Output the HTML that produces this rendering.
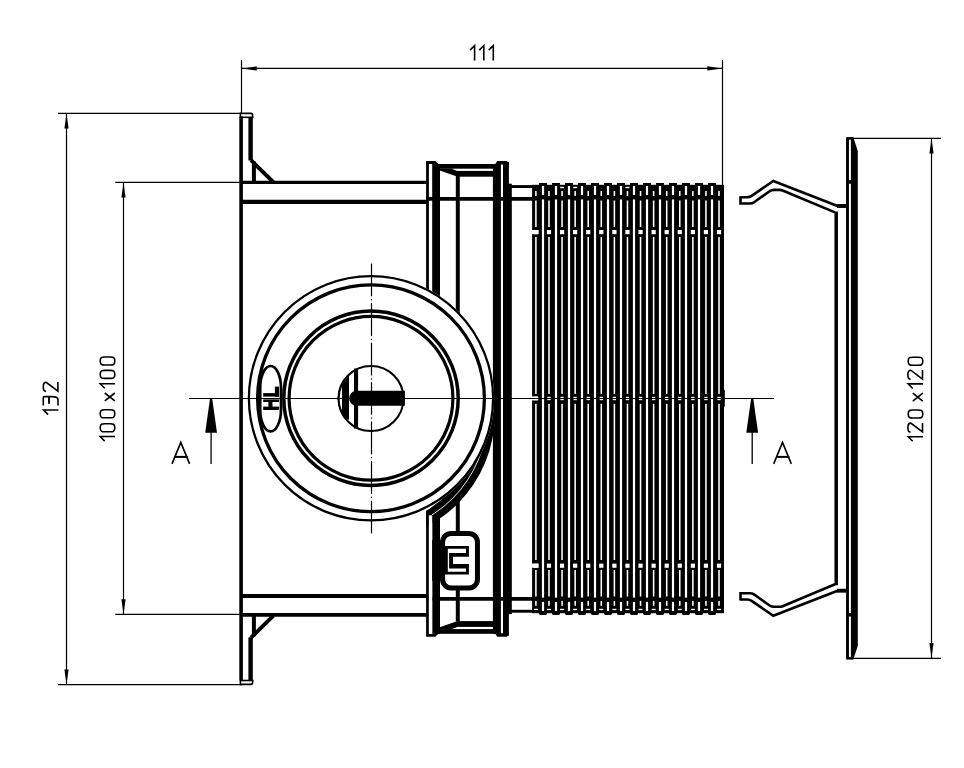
<!DOCTYPE html>
<html><head><meta charset="utf-8"><title>drawing</title>
<style>
html,body{margin:0;padding:0;background:#fff;}
body{width:964px;height:768px;overflow:hidden;font-family:"Liberation Sans",sans-serif;}
svg{display:block;}
</style></head>
<body>
<svg width="964" height="768" viewBox="0 0 964 768">
<rect x="0" y="0" width="964" height="768" fill="#fff"/>
<g fill="none" stroke="#000" stroke-linecap="butt">
<path d="M241.5,68.4 H722.5" stroke-width="1.2"/>
<path d="M241.5,60 V113.5" stroke-width="1.2"/>
<path d="M722.5,60 V185" stroke-width="1.2"/>
<polygon points="241.5,68.4 256.7,66.3 256.7,70.5" fill="#000" stroke="none"/>
<polygon points="722.5,68.4 707.3,66.3 707.3,70.5" fill="#000" stroke="none"/>
<g transform="translate(469.4,44.8)" stroke-width="1.6" fill="none"><path d="M0.6,5.3 L5.2,0.8 V15.6"/><path d="M9.8,5.3 L14.4,0.8 V15.6"/><path d="M19.3,5.3 L23.9,0.8 V15.6"/></g>
<path d="M66.5,113.3 V684.6" stroke-width="1.2"/>
<path d="M58,113.3 H241" stroke-width="1.2"/>
<path d="M58,684.6 H242" stroke-width="1.2"/>
<polygon points="66.5,113.3 64.4,128.5 68.6,128.5" fill="#000" stroke="none"/>
<polygon points="66.5,684.6 64.4,669.4 68.6,669.4" fill="#000" stroke="none"/>
<g transform="translate(42.8,415) rotate(-90)" stroke-width="1.6" fill="none"><path d="M0.4,5.3 L5.0,0.8 V15.6"/><g transform="translate(9.25,0)"><path d="M0.15,0.5 H8.05 Q9.15,0.5 9.15,1.6 V9.2 C9.15,13 8,15.2 6.15,15.2 H0.15"/><path d="M1.95,6.2 H9.15" stroke-width="1.9"/></g><g transform="translate(23.2,0)"><path d="M0.5,3.2 C0.5,1.3 2.4,0.45 4.9,0.45 C7.5,0.45 9.5,1.6 9.5,3.4 L0.6,15.1 H9.7"/></g></g>
<path d="M123.5,182.4 V614.4" stroke-width="1.2"/>
<path d="M115.2,182.4 H240" stroke-width="1.2"/>
<path d="M115.2,614.4 H240" stroke-width="1.2"/>
<polygon points="123.5,182.4 121.4,197.6 125.6,197.6" fill="#000" stroke="none"/>
<polygon points="123.5,614.4 121.4,599.2 125.6,599.2" fill="#000" stroke="none"/>
<g transform="translate(99.4,441.4) rotate(-90)" stroke-width="1.6" fill="none"><path d="M0.3,5.3 L4.9,0.8 V15.6"/><path d="M13.600000000000001,0.8 C17.8,0.8 17.6,3 17.6,5.6 V10.6 C17.6,13.2 17.8,15.4 13.600000000000001,15.4 C9.400000000000002,15.4 9.600000000000001,13.2 9.600000000000001,10.6 V5.6 C9.600000000000001,3 9.400000000000002,0.8 13.600000000000001,0.8 Z"/><path d="M27.6,0.8 C31.8,0.8 31.6,3 31.6,5.6 V10.6 C31.6,13.2 31.8,15.4 27.6,15.4 C23.400000000000002,15.4 23.6,13.2 23.6,10.6 V5.6 C23.6,3 23.400000000000002,0.8 27.6,0.8 Z"/><g transform="translate(39.7,0)"><path d="M0.8,5.4 L8.7,15.4 M8.7,5.4 L0.8,15.4"/></g><path d="M53.1,5.3 L57.7,0.8 V15.6"/><path d="M67.0,0.8 C71.2,0.8 71.0,3 71.0,5.6 V10.6 C71.0,13.2 71.2,15.4 67.0,15.4 C62.8,15.4 63.0,13.2 63.0,10.6 V5.6 C63.0,3 62.8,0.8 67.0,0.8 Z"/><path d="M80.39999999999999,0.8 C84.6,0.8 84.39999999999999,3 84.39999999999999,5.6 V10.6 C84.39999999999999,13.2 84.6,15.4 80.39999999999999,15.4 C76.19999999999999,15.4 76.39999999999999,13.2 76.39999999999999,10.6 V5.6 C76.39999999999999,3 76.19999999999999,0.8 80.39999999999999,0.8 Z"/></g>
<path d="M931.5,138.3 V658.3" stroke-width="1.2"/>
<path d="M853,138.3 H941" stroke-width="1.2"/>
<path d="M853,658.3 H941" stroke-width="1.2"/>
<polygon points="931.5,138.3 929.4,153.5 933.6,153.5" fill="#000" stroke="none"/>
<polygon points="931.5,658.3 929.4,643.1 933.6,643.1" fill="#000" stroke="none"/>
<g transform="translate(907.4,441.6) rotate(-90)" stroke-width="1.6" fill="none"><path d="M0.3,5.3 L4.9,0.8 V15.6"/><g transform="translate(9.0,0)"><path d="M0.5,3.2 C0.5,1.3 2.4,0.45 4.9,0.45 C7.5,0.45 9.5,1.6 9.5,3.4 L0.6,15.1 H9.7"/></g><path d="M27.6,0.8 C31.8,0.8 31.6,3 31.6,5.6 V10.6 C31.6,13.2 31.8,15.4 27.6,15.4 C23.400000000000002,15.4 23.6,13.2 23.6,10.6 V5.6 C23.6,3 23.400000000000002,0.8 27.6,0.8 Z"/><g transform="translate(39.7,0)"><path d="M0.8,5.4 L8.7,15.4 M8.7,5.4 L0.8,15.4"/></g><path d="M53.1,5.3 L57.7,0.8 V15.6"/><g transform="translate(61.9,0)"><path d="M0.5,3.2 C0.5,1.3 2.4,0.45 4.9,0.45 C7.5,0.45 9.5,1.6 9.5,3.4 L0.6,15.1 H9.7"/></g><path d="M80.39999999999999,0.8 C84.6,0.8 84.39999999999999,3 84.39999999999999,5.6 V10.6 C84.39999999999999,13.2 84.6,15.4 80.39999999999999,15.4 C76.19999999999999,15.4 76.39999999999999,13.2 76.39999999999999,10.6 V5.6 C76.39999999999999,3 76.19999999999999,0.8 80.39999999999999,0.8 Z"/></g>
<path d="M189,398.5 H774" stroke-width="1.2"/>
<polygon points="210.0,398.8 212.2,398.8 217.0,432.8 205.2,432.8" fill="#000" stroke="none"/>
<path d="M211.1,432 V464" stroke-width="1.3"/>
<polygon points="751.1,398.8 753.3000000000001,398.8 758.1,432.8 746.3000000000001,432.8" fill="#000" stroke="none"/>
<path d="M752.2,432 V464" stroke-width="1.3"/>
<path d="M172.0,463.9 L180.8,442.4 L189.6,463.9" stroke-width="1.6" fill="none" stroke-linejoin="miter"/>
<path d="M174.3,456.9 H187.7" stroke-width="2.0"/>
<path d="M773.7,463.9 L782.5,442.4 L791.3,463.9" stroke-width="1.6" fill="none" stroke-linejoin="miter"/>
<path d="M776.0,456.9 H789.4" stroke-width="2.0"/>
<path d="M240.4,117.5 V113.4 H251 Q252.6,113.4 252.6,115.2 V117.6" stroke-width="1.6" fill="none"/>
<path d="M240,117.3 H253.5" stroke-width="1.6"/>
<path d="M240.4,680.3 V684.4 H251 Q252.6,684.4 252.6,682.6 V680.2" stroke-width="1.6" fill="none"/>
<path d="M240,680.5 H253.5" stroke-width="1.6"/>
<path d="M241.1,116.5 V680.5" stroke-width="3.6"/>
<path d="M250.6,117 V160.5" stroke-width="4.4"/>
<path d="M250.6,637.3 V680.8" stroke-width="4.4"/>
<path d="M251,160.2 L273.4,182.2" stroke-width="3.9"/>
<path d="M251,637.6 L273.4,615.6" stroke-width="3.9"/>
<path d="M253.9,161.5 V182" stroke-width="4.0"/>
<path d="M253.9,615.8 V636.3" stroke-width="4.0"/>
<path d="M241,182.45 H427" stroke-width="3.3"/>
<path d="M241,201.9 H427" stroke-width="4.1"/>
<path d="M241,595.9 H427" stroke-width="4.0"/>
<path d="M241,614.8 H427" stroke-width="3.8"/>
<path d="M427.5,291 V162.5 H434.8 L437.4,165" stroke-width="2.8" fill="none"/>
<path d="M427.5,512 V635.3 H434.8 L437.4,632.8" stroke-width="2.8" fill="none"/>
<rect x="432.2" y="164" width="7.8" height="133" fill="#000" stroke="none"/>
<rect x="432.2" y="509" width="7.8" height="124.8" fill="#000" stroke="none"/>
<rect x="436.5" y="164" width="59.5" height="4.7" fill="#000" stroke="none"/>
<rect x="436.5" y="629.1" width="59.5" height="4.7" fill="#000" stroke="none"/>
<rect x="457" y="170.9" width="36.2" height="5.8" fill="#000" stroke="none"/>
<rect x="457" y="621.1" width="36.2" height="5.8" fill="#000" stroke="none"/>
<polygon points="439.7,168.6 451.5,168.6 457.2,170.9 457.2,176.7 455.5,176.0 439.7,170.6" fill="#000" stroke="none"/>
<polygon points="439.7,629.2 451.5,629.2 457.2,626.9 457.2,621.1 455.5,621.8 439.7,627.2" fill="#000" stroke="none"/>
<path d="M457.8,176 V314" stroke-width="4.0"/>
<path d="M457.8,500 V533" stroke-width="4.0"/>
<rect x="492.9" y="164" width="8.0" height="469.8" fill="#000" stroke="none"/>
<polygon points="495.0,164.5 497.2,161 507.0,161 508.9,164.5" fill="#000" stroke="none"/>
<polygon points="495.0,633.3 497.2,636.8 507.0,636.8 508.9,633.3" fill="#000" stroke="none"/>
<rect x="503.0" y="162" width="5.9" height="473.8" fill="#000" stroke="none"/>
<rect x="503.0" y="183.7" width="8.8" height="430.4" fill="#000" stroke="none"/>
<path d="M426.5,198.85 H533" stroke-width="3.8"/>
<path d="M426.5,598.95 H533" stroke-width="3.8"/>
<path d="M511,186.55 H533" stroke-width="2.9"/>
<path d="M511,611.25 H533" stroke-width="2.9"/>
<rect x="532.1" y="184.8" width="191.9" height="428.4" fill="#000" stroke="none"/>
<rect x="539.0" y="183.0" width="8.0" height="2.5" fill="#000" stroke="none"/>
<path d="M539.0,612 V613.6 Q539.0,614.9 540.3,614.9 H545.7 Q547.0,614.9 547.0,613.6 V612 Z" fill="#000" stroke="none"/>
<rect x="552.0" y="183.0" width="8.0" height="2.5" fill="#000" stroke="none"/>
<path d="M552.0,612 V613.6 Q552.0,614.9 553.3,614.9 H558.7 Q560.0,614.9 560.0,613.6 V612 Z" fill="#000" stroke="none"/>
<rect x="565.0" y="183.0" width="8.0" height="2.5" fill="#000" stroke="none"/>
<path d="M565.0,612 V613.6 Q565.0,614.9 566.3,614.9 H571.7 Q573.0,614.9 573.0,613.6 V612 Z" fill="#000" stroke="none"/>
<rect x="578.0" y="183.0" width="8.0" height="2.5" fill="#000" stroke="none"/>
<path d="M578.0,612 V613.6 Q578.0,614.9 579.3,614.9 H584.7 Q586.0,614.9 586.0,613.6 V612 Z" fill="#000" stroke="none"/>
<rect x="591.0" y="183.0" width="8.0" height="2.5" fill="#000" stroke="none"/>
<path d="M591.0,612 V613.6 Q591.0,614.9 592.3,614.9 H597.7 Q599.0,614.9 599.0,613.6 V612 Z" fill="#000" stroke="none"/>
<rect x="604.0" y="183.0" width="8.0" height="2.5" fill="#000" stroke="none"/>
<path d="M604.0,612 V613.6 Q604.0,614.9 605.3,614.9 H610.7 Q612.0,614.9 612.0,613.6 V612 Z" fill="#000" stroke="none"/>
<rect x="617.0" y="183.0" width="8.0" height="2.5" fill="#000" stroke="none"/>
<path d="M617.0,612 V613.6 Q617.0,614.9 618.3,614.9 H623.7 Q625.0,614.9 625.0,613.6 V612 Z" fill="#000" stroke="none"/>
<rect x="630.0" y="183.0" width="8.0" height="2.5" fill="#000" stroke="none"/>
<path d="M630.0,612 V613.6 Q630.0,614.9 631.3,614.9 H636.7 Q638.0,614.9 638.0,613.6 V612 Z" fill="#000" stroke="none"/>
<rect x="643.0" y="183.0" width="8.0" height="2.5" fill="#000" stroke="none"/>
<path d="M643.0,612 V613.6 Q643.0,614.9 644.3,614.9 H649.7 Q651.0,614.9 651.0,613.6 V612 Z" fill="#000" stroke="none"/>
<rect x="656.0" y="183.0" width="8.0" height="2.5" fill="#000" stroke="none"/>
<path d="M656.0,612 V613.6 Q656.0,614.9 657.3,614.9 H662.7 Q664.0,614.9 664.0,613.6 V612 Z" fill="#000" stroke="none"/>
<rect x="669.0" y="183.0" width="8.0" height="2.5" fill="#000" stroke="none"/>
<path d="M669.0,612 V613.6 Q669.0,614.9 670.3,614.9 H675.7 Q677.0,614.9 677.0,613.6 V612 Z" fill="#000" stroke="none"/>
<rect x="682.0" y="183.0" width="8.0" height="2.5" fill="#000" stroke="none"/>
<path d="M682.0,612 V613.6 Q682.0,614.9 683.3,614.9 H688.7 Q690.0,614.9 690.0,613.6 V612 Z" fill="#000" stroke="none"/>
<rect x="695.0" y="183.0" width="8.0" height="2.5" fill="#000" stroke="none"/>
<path d="M695.0,612 V613.6 Q695.0,614.9 696.3,614.9 H701.7 Q703.0,614.9 703.0,613.6 V612 Z" fill="#000" stroke="none"/>
<rect x="708.0" y="183.0" width="8.0" height="2.5" fill="#000" stroke="none"/>
<path d="M708.0,612 V613.6 Q708.0,614.9 709.3,614.9 H714.7 Q716.0,614.9 716.0,613.6 V612 Z" fill="#000" stroke="none"/>
<g fill="#fff" stroke="none">
<rect x="541.9" y="186" width="2.2" height="9"/>
<rect x="541.9" y="199.4" width="2.2" height="398.2"/>
<rect x="541.9" y="601.9" width="2.2" height="9.1"/>
<rect x="554.9" y="186" width="2.2" height="9"/>
<rect x="554.9" y="199.4" width="2.2" height="398.2"/>
<rect x="554.9" y="601.9" width="2.2" height="9.1"/>
<rect x="567.9" y="186" width="2.2" height="9"/>
<rect x="567.9" y="199.4" width="2.2" height="398.2"/>
<rect x="567.9" y="601.9" width="2.2" height="9.1"/>
<rect x="580.9" y="186" width="2.2" height="9"/>
<rect x="580.9" y="199.4" width="2.2" height="398.2"/>
<rect x="580.9" y="601.9" width="2.2" height="9.1"/>
<rect x="593.9" y="186" width="2.2" height="9"/>
<rect x="593.9" y="199.4" width="2.2" height="398.2"/>
<rect x="593.9" y="601.9" width="2.2" height="9.1"/>
<rect x="606.9" y="186" width="2.2" height="9"/>
<rect x="606.9" y="199.4" width="2.2" height="398.2"/>
<rect x="606.9" y="601.9" width="2.2" height="9.1"/>
<rect x="619.9" y="186" width="2.2" height="9"/>
<rect x="619.9" y="199.4" width="2.2" height="398.2"/>
<rect x="619.9" y="601.9" width="2.2" height="9.1"/>
<rect x="632.9" y="186" width="2.2" height="9"/>
<rect x="632.9" y="199.4" width="2.2" height="398.2"/>
<rect x="632.9" y="601.9" width="2.2" height="9.1"/>
<rect x="645.9" y="186" width="2.2" height="9"/>
<rect x="645.9" y="199.4" width="2.2" height="398.2"/>
<rect x="645.9" y="601.9" width="2.2" height="9.1"/>
<rect x="658.9" y="186" width="2.2" height="9"/>
<rect x="658.9" y="199.4" width="2.2" height="398.2"/>
<rect x="658.9" y="601.9" width="2.2" height="9.1"/>
<rect x="671.9" y="186" width="2.2" height="9"/>
<rect x="671.9" y="199.4" width="2.2" height="398.2"/>
<rect x="671.9" y="601.9" width="2.2" height="9.1"/>
<rect x="684.9" y="186" width="2.2" height="9"/>
<rect x="684.9" y="199.4" width="2.2" height="398.2"/>
<rect x="684.9" y="601.9" width="2.2" height="9.1"/>
<rect x="697.9" y="186" width="2.2" height="9"/>
<rect x="697.9" y="199.4" width="2.2" height="398.2"/>
<rect x="697.9" y="601.9" width="2.2" height="9.1"/>
<rect x="710.9" y="186" width="2.2" height="9"/>
<rect x="710.9" y="199.4" width="2.2" height="398.2"/>
<rect x="710.9" y="601.9" width="2.2" height="9.1"/>
<rect x="535.12" y="191" width="1.55" height="5"/>
<rect x="535.12" y="200.5" width="1.55" height="26.5"/>
<rect x="535.12" y="237" width="1.55" height="156.9"/>
<rect x="535.12" y="403.8" width="1.55" height="156.2"/>
<rect x="535.12" y="570" width="1.55" height="26.5"/>
<rect x="535.12" y="600.9" width="1.55" height="4.9"/>
<rect x="533.9" y="608.8" width="4.0" height="1.3"/>
<rect x="533.8" y="230" width="4.2" height="4.2"/>
<rect x="533.8" y="563.6" width="4.2" height="4.2"/>
<rect x="534.25" y="396.8" width="3.3" height="3.4"/>
<rect x="548.21" y="191" width="1.55" height="5"/>
<rect x="548.21" y="200.5" width="1.55" height="26.5"/>
<rect x="548.21" y="237" width="1.55" height="156.9"/>
<rect x="548.21" y="403.8" width="1.55" height="156.2"/>
<rect x="548.21" y="570" width="1.55" height="26.5"/>
<rect x="548.21" y="600.9" width="1.55" height="4.9"/>
<rect x="546.98" y="608.8" width="4.0" height="1.3"/>
<rect x="546.88" y="230" width="4.2" height="4.2"/>
<rect x="546.88" y="563.6" width="4.2" height="4.2"/>
<rect x="547.33" y="396.8" width="3.3" height="3.4"/>
<rect x="561.28" y="191" width="1.55" height="5"/>
<rect x="561.28" y="200.5" width="1.55" height="26.5"/>
<rect x="561.28" y="237" width="1.55" height="156.9"/>
<rect x="561.28" y="403.8" width="1.55" height="156.2"/>
<rect x="561.28" y="570" width="1.55" height="26.5"/>
<rect x="561.28" y="600.9" width="1.55" height="4.9"/>
<rect x="560.06" y="186.8" width="4.0" height="1.4"/>
<rect x="560.06" y="608.8" width="4.0" height="1.3"/>
<rect x="559.96" y="230" width="4.2" height="4.2"/>
<rect x="559.96" y="563.6" width="4.2" height="4.2"/>
<rect x="560.41" y="396.8" width="3.3" height="3.4"/>
<rect x="574.37" y="191" width="1.55" height="5"/>
<rect x="574.37" y="200.5" width="1.55" height="26.5"/>
<rect x="574.37" y="237" width="1.55" height="156.9"/>
<rect x="574.37" y="403.8" width="1.55" height="156.2"/>
<rect x="574.37" y="570" width="1.55" height="26.5"/>
<rect x="574.37" y="600.9" width="1.55" height="4.9"/>
<rect x="573.14" y="186.8" width="4.0" height="1.4"/>
<rect x="573.14" y="608.8" width="4.0" height="1.3"/>
<rect x="573.04" y="230" width="4.2" height="4.2"/>
<rect x="573.04" y="563.6" width="4.2" height="4.2"/>
<rect x="573.49" y="396.8" width="3.3" height="3.4"/>
<rect x="587.45" y="191" width="1.55" height="5"/>
<rect x="587.45" y="200.5" width="1.55" height="26.5"/>
<rect x="587.45" y="237" width="1.55" height="156.9"/>
<rect x="587.45" y="403.8" width="1.55" height="156.2"/>
<rect x="587.45" y="570" width="1.55" height="26.5"/>
<rect x="587.45" y="600.9" width="1.55" height="4.9"/>
<rect x="586.22" y="608.8" width="4.0" height="1.3"/>
<rect x="586.12" y="230" width="4.2" height="4.2"/>
<rect x="586.12" y="563.6" width="4.2" height="4.2"/>
<rect x="586.57" y="396.8" width="3.3" height="3.4"/>
<rect x="600.52" y="191" width="1.55" height="5"/>
<rect x="600.52" y="200.5" width="1.55" height="26.5"/>
<rect x="600.52" y="237" width="1.55" height="156.9"/>
<rect x="600.52" y="403.8" width="1.55" height="156.2"/>
<rect x="600.52" y="570" width="1.55" height="26.5"/>
<rect x="600.52" y="600.9" width="1.55" height="4.9"/>
<rect x="599.3" y="608.8" width="4.0" height="1.3"/>
<rect x="599.2" y="230" width="4.2" height="4.2"/>
<rect x="599.2" y="563.6" width="4.2" height="4.2"/>
<rect x="599.65" y="396.8" width="3.3" height="3.4"/>
<rect x="613.61" y="191" width="1.55" height="5"/>
<rect x="613.61" y="200.5" width="1.55" height="26.5"/>
<rect x="613.61" y="237" width="1.55" height="156.9"/>
<rect x="613.61" y="403.8" width="1.55" height="156.2"/>
<rect x="613.61" y="570" width="1.55" height="26.5"/>
<rect x="613.61" y="600.9" width="1.55" height="4.9"/>
<rect x="612.38" y="608.8" width="4.0" height="1.3"/>
<rect x="612.28" y="230" width="4.2" height="4.2"/>
<rect x="612.28" y="563.6" width="4.2" height="4.2"/>
<rect x="612.73" y="396.8" width="3.3" height="3.4"/>
<rect x="626.69" y="191" width="1.55" height="5"/>
<rect x="626.69" y="200.5" width="1.55" height="26.5"/>
<rect x="626.69" y="237" width="1.55" height="156.9"/>
<rect x="626.69" y="403.8" width="1.55" height="156.2"/>
<rect x="626.69" y="570" width="1.55" height="26.5"/>
<rect x="626.69" y="600.9" width="1.55" height="4.9"/>
<rect x="625.46" y="186.8" width="4.0" height="1.4"/>
<rect x="625.46" y="608.8" width="4.0" height="1.3"/>
<rect x="625.36" y="230" width="4.2" height="4.2"/>
<rect x="625.36" y="563.6" width="4.2" height="4.2"/>
<rect x="625.81" y="396.8" width="3.3" height="3.4"/>
<rect x="639.76" y="191" width="1.55" height="5"/>
<rect x="639.76" y="200.5" width="1.55" height="26.5"/>
<rect x="639.76" y="237" width="1.55" height="156.9"/>
<rect x="639.76" y="403.8" width="1.55" height="156.2"/>
<rect x="639.76" y="570" width="1.55" height="26.5"/>
<rect x="639.76" y="600.9" width="1.55" height="4.9"/>
<rect x="638.54" y="608.8" width="4.0" height="1.3"/>
<rect x="638.44" y="230" width="4.2" height="4.2"/>
<rect x="638.44" y="563.6" width="4.2" height="4.2"/>
<rect x="638.89" y="396.8" width="3.3" height="3.4"/>
<rect x="652.85" y="191" width="1.55" height="5"/>
<rect x="652.85" y="200.5" width="1.55" height="26.5"/>
<rect x="652.85" y="237" width="1.55" height="156.9"/>
<rect x="652.85" y="403.8" width="1.55" height="156.2"/>
<rect x="652.85" y="570" width="1.55" height="26.5"/>
<rect x="652.85" y="600.9" width="1.55" height="4.9"/>
<rect x="651.62" y="608.8" width="4.0" height="1.3"/>
<rect x="651.52" y="230" width="4.2" height="4.2"/>
<rect x="651.52" y="563.6" width="4.2" height="4.2"/>
<rect x="651.97" y="396.8" width="3.3" height="3.4"/>
<rect x="665.93" y="191" width="1.55" height="5"/>
<rect x="665.93" y="200.5" width="1.55" height="26.5"/>
<rect x="665.93" y="237" width="1.55" height="156.9"/>
<rect x="665.93" y="403.8" width="1.55" height="156.2"/>
<rect x="665.93" y="570" width="1.55" height="26.5"/>
<rect x="665.93" y="600.9" width="1.55" height="4.9"/>
<rect x="664.7" y="608.8" width="4.0" height="1.3"/>
<rect x="664.6" y="230" width="4.2" height="4.2"/>
<rect x="664.6" y="563.6" width="4.2" height="4.2"/>
<rect x="665.05" y="396.8" width="3.3" height="3.4"/>
<rect x="679.0" y="191" width="1.55" height="5"/>
<rect x="679.0" y="200.5" width="1.55" height="26.5"/>
<rect x="679.0" y="237" width="1.55" height="156.9"/>
<rect x="679.0" y="403.8" width="1.55" height="156.2"/>
<rect x="679.0" y="570" width="1.55" height="26.5"/>
<rect x="679.0" y="600.9" width="1.55" height="4.9"/>
<rect x="677.78" y="608.8" width="4.0" height="1.3"/>
<rect x="677.68" y="230" width="4.2" height="4.2"/>
<rect x="677.68" y="563.6" width="4.2" height="4.2"/>
<rect x="678.13" y="396.8" width="3.3" height="3.4"/>
<rect x="692.09" y="191" width="1.55" height="5"/>
<rect x="692.09" y="200.5" width="1.55" height="26.5"/>
<rect x="692.09" y="237" width="1.55" height="156.9"/>
<rect x="692.09" y="403.8" width="1.55" height="156.2"/>
<rect x="692.09" y="570" width="1.55" height="26.5"/>
<rect x="692.09" y="600.9" width="1.55" height="4.9"/>
<rect x="690.86" y="608.8" width="4.0" height="1.3"/>
<rect x="690.76" y="230" width="4.2" height="4.2"/>
<rect x="690.76" y="563.6" width="4.2" height="4.2"/>
<rect x="691.21" y="396.8" width="3.3" height="3.4"/>
<rect x="705.16" y="191" width="1.55" height="5"/>
<rect x="705.16" y="200.5" width="1.55" height="26.5"/>
<rect x="705.16" y="237" width="1.55" height="156.9"/>
<rect x="705.16" y="403.8" width="1.55" height="156.2"/>
<rect x="705.16" y="570" width="1.55" height="26.5"/>
<rect x="705.16" y="600.9" width="1.55" height="4.9"/>
<rect x="703.94" y="608.8" width="4.0" height="1.3"/>
<rect x="703.84" y="230" width="4.2" height="4.2"/>
<rect x="703.84" y="563.6" width="4.2" height="4.2"/>
<rect x="704.29" y="396.8" width="3.3" height="3.4"/>
<rect x="718.25" y="191" width="1.55" height="5"/>
<rect x="718.25" y="200.5" width="1.55" height="26.5"/>
<rect x="718.25" y="237" width="1.55" height="156.9"/>
<rect x="718.25" y="403.8" width="1.55" height="156.2"/>
<rect x="718.25" y="570" width="1.55" height="26.5"/>
<rect x="718.25" y="600.9" width="1.55" height="4.9"/>
<rect x="717.02" y="608.8" width="4.0" height="1.3"/>
<rect x="716.92" y="230" width="4.2" height="4.2"/>
<rect x="716.92" y="563.6" width="4.2" height="4.2"/>
<rect x="717.37" y="396.8" width="3.3" height="3.4"/>
<rect x="531.5" y="230" width="7.2" height="4.2"/>
<rect x="531.5" y="563.6" width="7.2" height="4.2"/>
<rect x="531.5" y="396.4" width="6.7" height="4.0"/>
</g>
<path d="M531,398.5 H725" stroke-width="1.2"/>
<rect x="723.5" y="389.8" width="1.3" height="16.8" fill="#000" stroke="none"/>
<defs><clipPath id="wc"><rect x="426.1" y="398.5" width="67.2" height="140"/></clipPath></defs>
<path clip-path="url(#wc)" fill="#000" stroke="none" fill-rule="evenodd" d="M494.7,414.6 A126.0,126.0 0 1 1 242.7,414.6 A126.0,126.0 0 1 1 494.7,414.6 Z M480.7,414.6 A112.0,112.0 0 1 1 256.7,414.6 A112.0,112.0 0 1 1 480.7,414.6 Z"/>
<rect x="428.9" y="515.3" width="3.3" height="118.2" fill="#fff" stroke="none"/>
<defs><clipPath id="wcb"><rect x="432.1" y="398.5" width="61.2" height="140"/></clipPath></defs>
<g clip-path="url(#wcb)"><circle cx="368.7" cy="414.6" r="118.6" stroke="#fff" stroke-width="0.9" fill="none"/></g>
<circle cx="371.0" cy="398.3" r="123.2" fill="#fff" stroke="none"/>
<circle cx="371.0" cy="398.3" r="122.1" stroke-width="2.3" fill="none"/>
<circle cx="371.0" cy="398.3" r="113.4" stroke-width="3.3" fill="none"/>
<circle cx="371.0" cy="398.3" r="87.2" stroke-width="3.5" fill="none"/>
<circle cx="371.0" cy="398.3" r="81.9" stroke-width="3.2" fill="none"/>
<circle cx="371.0" cy="398.5" r="32.5" stroke-width="2.0" fill="none"/>
<path d="M356.6,390.8 H404.9 V405.8 H356.6 A7.5,7.5 0 0 1 356.6,390.8 Z" fill="#000" stroke="none"/>
<rect x="354" y="368.5" width="4.1" height="60.1" fill="#000" stroke="none"/>
<defs><clipPath id="kh"><circle cx="371.0" cy="398.5" r="33.3"/></clipPath><clipPath id="kh2"><circle cx="371.0" cy="398.5" r="31.4"/></clipPath></defs>
<rect clip-path="url(#kh)" x="336" y="374.9" width="13" height="44.7" fill="#000" stroke="none"/>
<rect clip-path="url(#kh2)" x="336" y="380" width="6" height="37" fill="#fff" stroke="none"/>
<path d="M336,398.5 H345" stroke-width="1.2"/>
<path d="M260.2,388 A10.4,22 0 0 1 281.0,388 V409.4 A10.4,22 0 0 1 260.2,409.4 Z" stroke-width="2.7" fill="none"/>
<rect x="263.2" y="393.1" width="15.8" height="3.5" fill="#000" stroke="none"/>
<rect x="274.9" y="386.6" width="4.1" height="10.0" fill="#000" stroke="none"/>
<rect x="263.2" y="399.4" width="15.8" height="2.6" fill="#000" stroke="none"/>
<rect x="263.2" y="406.6" width="15.8" height="3.4" fill="#000" stroke="none"/>
<rect x="268.4" y="401" width="4.1" height="6.5" fill="#000" stroke="none"/>
<path d="M371.5,263.6 V296.3" stroke-width="1.2"/>
<path d="M371.5,299.05 V300.35" stroke-width="1.2"/>
<path d="M371.5,303.1 V335.9" stroke-width="1.2"/>
<path d="M371.5,338.65 V339.95" stroke-width="1.2"/>
<path d="M371.5,342.7 V375.5" stroke-width="1.2"/>
<path d="M371.5,378.25 V379.55" stroke-width="1.2"/>
<path d="M371.5,382.3 V414.7" stroke-width="1.2"/>
<path d="M371.5,417.45 V418.75" stroke-width="1.2"/>
<path d="M371.5,421.5 V454.3" stroke-width="1.2"/>
<path d="M371.5,457.05 V458.35" stroke-width="1.2"/>
<path d="M371.5,461.1 V493.9" stroke-width="1.2"/>
<path d="M371.5,496.65 V497.95" stroke-width="1.2"/>
<path d="M371.5,500.7 V533.4" stroke-width="1.2"/>
<path d="M240,398.5 H532" stroke-width="1.2"/>
<rect x="442.6" y="533.5" width="34.85" height="54.5" rx="8.5" ry="8.5" stroke-width="5" fill="#fff"/>
<rect x="432.2" y="540" width="12.5" height="41" fill="#000" stroke="none"/>
<path fill-rule="evenodd" fill="#000" stroke="none" d="M444.9,546 H468.9 V556.7 H453 V564 H468.9 V574.6 H444.9 Z M447.8,548.85 H466 V553 H449.1 V568.6 H466 V571.8 H447.8 Z"/>
<path d="M457.8,588 V621" stroke-width="4.0"/>
<path d="M740.6,197.2 H747 C749.3,197.2 750.6,196.6 752,195.6 L773.3,181 L837.6,206" stroke-width="2.6" fill="none" stroke-linejoin="miter"/>
<path d="M740.5,196.2 V203.5 H750 C751.6,203.5 752.8,203.1 754,202.3 L769.6,191.2 C771.1,190.2 772.5,189.9 774.2,189.9 H779.6 C780.8,189.9 781.6,190.1 782.6,190.5 L835,212.4" stroke-width="2.6" fill="none" stroke-linejoin="miter"/>
<path d="M837,206 H847" stroke-width="3.9"/>
<rect x="848.6" y="180.2" width="2.6" height="3.5" fill="#000" stroke="none"/>
<path d="M740.6,599.5 H747 C749.3,599.5 750.6,600.1 752,601.1 L773.3,615.7 L837.6,590.7" stroke-width="2.6" fill="none" stroke-linejoin="miter"/>
<path d="M740.5,600.5 V593.2 H750 C751.6,593.2 752.8,593.6 754,594.4 L769.6,605.5 C771.1,606.5 772.5,606.8 774.2,606.8 H779.6 C780.8,606.8 781.6,606.6 782.6,606.2 L835,584.3" stroke-width="2.6" fill="none" stroke-linejoin="miter"/>
<path d="M837,590.7 H847" stroke-width="3.9"/>
<rect x="848.6" y="613.0" width="2.6" height="3.5" fill="#000" stroke="none"/>
<path d="M836.2,211.5 V585.2" stroke-width="3.5"/>
<path d="M847.5,138.5 V658.5" stroke-width="2.9"/>
<path d="M846.3,138.4 H853.3" stroke-width="2.6"/>
<path d="M846.3,658.3 H853.3" stroke-width="2.6"/>
<polygon points="850.9,137.5 853.4,137.5 857.8,151 857.8,645.7 853.4,659.2 850.9,659.2" fill="#000" stroke="none"/>
</g>
</svg>
</body></html>
